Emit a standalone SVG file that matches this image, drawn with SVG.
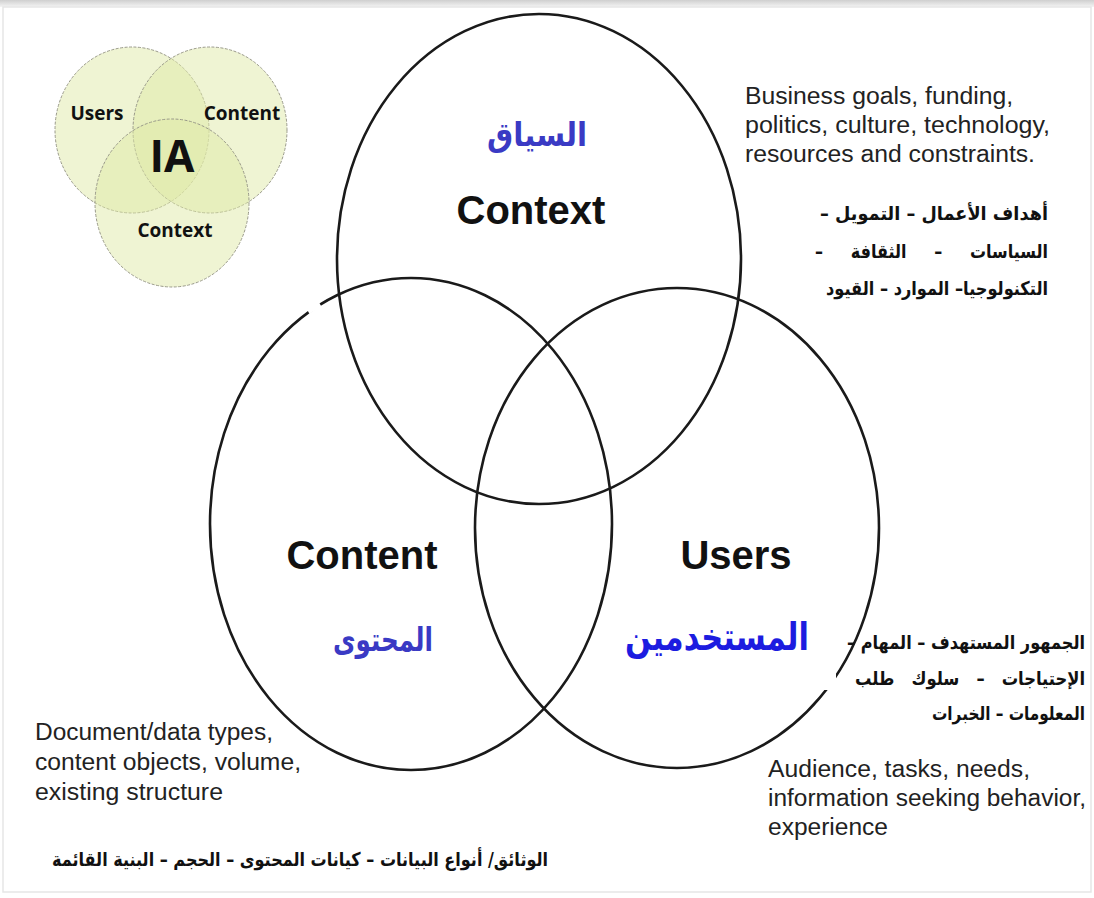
<svg xmlns="http://www.w3.org/2000/svg" width="1094" height="898" viewBox="0 0 1094 898">
<defs>
<style>
.big{fill:none;stroke:#1a1a1a;stroke-width:2.6}
.small{fill:#dfeaa8;fill-opacity:0.5;stroke:#9a9a8a;stroke-width:1;stroke-dasharray:3 1.5}
.lbl{font-family:"Liberation Sans",Arial,sans-serif;font-weight:bold;font-size:40px;fill:#111;text-anchor:middle}
.sl{font-family:"Open Sans","DejaVu Sans",sans-serif;font-weight:bold;fill:#111;text-anchor:middle}
.desc{font-family:"Liberation Sans",Arial,sans-serif;font-size:23px;fill:#222}
.ar{font-family:"DejaVu Sans","Noto Sans",sans-serif;font-weight:bold;font-size:19px;fill:#111;direction:rtl;text-anchor:start}
.pre{white-space:pre}
.arb{font-family:"DejaVu Sans","Noto Sans",sans-serif;font-weight:bold;fill:#3a3ac4;text-anchor:middle}
</style>
<linearGradient id="topband" x1="0" y1="0" x2="0" y2="1">
<stop offset="0" stop-color="#cfcfcf"/>
<stop offset="1" stop-color="#f4f4f4"/>
</linearGradient>
</defs>
<rect width="1094" height="898" fill="#ffffff"/>
<rect x="0" y="0" width="1094" height="7" fill="url(#topband)"/>
<rect x="3" y="7" width="1088" height="885" fill="none" stroke="#e6e6e6" stroke-width="1.5"/>

<g id="ia-venn">
<ellipse class="small" cx="132" cy="130" rx="77" ry="83"/>
<ellipse class="small" cx="210" cy="130" rx="77" ry="83"/>
<ellipse class="small" cx="172" cy="203" rx="77" ry="84"/>
<text class="sl" x="97" y="120" font-size="19">Users</text>
<text class="sl" x="242" y="120" font-size="19">Content</text>
<text class="sl" x="172" y="172" font-size="44">IA</text>
<text class="sl" x="175" y="237" font-size="19">Context</text>
</g>

<g id="context">
<ellipse class="big" cx="539" cy="259" rx="202" ry="245"/>
<text class="arb" x="537" y="146" font-size="33" textLength="100" lengthAdjust="spacingAndGlyphs">السياق</text>
<text class="lbl" x="531" y="224">Context</text>
</g>

<g id="content">
<ellipse class="big" cx="411" cy="524" rx="201" ry="246"/>
<text class="lbl" x="362" y="569">Content</text>
<text class="arb" x="383" y="651" font-size="33" textLength="100" lengthAdjust="spacingAndGlyphs">المحتوى</text>
</g>

<g id="users">
<ellipse class="big" cx="677" cy="528" rx="202" ry="240"/>
<text class="lbl" x="736" y="569">Users</text>
<text class="arb" x="717" y="650" font-size="38" textLength="184" lengthAdjust="spacingAndGlyphs" style="fill:#1c1ce0">المستخدمين</text>
</g>

<g id="gaps">
<rect x="306" y="301" width="14" height="10" fill="#ffffff" transform="rotate(-30 313 306)"/>
<rect x="824" y="672" width="12" height="18" fill="#ffffff"/>
</g>

<g id="context-desc">
<text class="desc" x="745" y="104" textLength="268" lengthAdjust="spacingAndGlyphs">Business goals, funding,</text>
<text class="desc" x="745" y="133" textLength="305" lengthAdjust="spacingAndGlyphs">politics, culture, technology,</text>
<text class="desc" x="745" y="162" textLength="290" lengthAdjust="spacingAndGlyphs">resources and constraints.</text>
<text class="ar" x="1048" y="220" textLength="228" lengthAdjust="spacingAndGlyphs">أهداف الأعمال – التمويل –</text>
<text class="ar pre" x="1048" y="258" textLength="233" lengthAdjust="spacingAndGlyphs">السياسات     –     الثقافة     –</text>
<text class="ar" x="1048" y="295" textLength="222" lengthAdjust="spacingAndGlyphs">التكنولوجيا– الموارد – القيود</text>
</g>

<g id="users-desc">
<text class="ar" x="1085" y="649" textLength="238" lengthAdjust="spacingAndGlyphs">الجمهور المستهدف – المهام –</text>
<text class="ar pre" x="1085" y="685" textLength="230" lengthAdjust="spacingAndGlyphs">الإحتياجات   –   سلوك   طلب</text>
<text class="ar" x="1085" y="720" textLength="153" lengthAdjust="spacingAndGlyphs">المعلومات – الخبرات</text>
<text class="desc" x="768" y="777" textLength="262" lengthAdjust="spacingAndGlyphs">Audience, tasks, needs,</text>
<text class="desc" x="768" y="806" textLength="318" lengthAdjust="spacingAndGlyphs">information seeking behavior,</text>
<text class="desc" x="768" y="835" textLength="120" lengthAdjust="spacingAndGlyphs">experience</text>
</g>

<g id="content-desc">
<text class="desc" x="35" y="740" textLength="238" lengthAdjust="spacingAndGlyphs">Document/data types,</text>
<text class="desc" x="35" y="770" textLength="266" lengthAdjust="spacingAndGlyphs">content objects, volume,</text>
<text class="desc" x="35" y="800" textLength="188" lengthAdjust="spacingAndGlyphs">existing structure</text>
<text class="ar" x="548" y="866" textLength="496" lengthAdjust="spacingAndGlyphs">الوثائق/ أنواع البيانات – كيانات المحتوى – الحجم – البنية القائمة</text>
</g>
</svg>
